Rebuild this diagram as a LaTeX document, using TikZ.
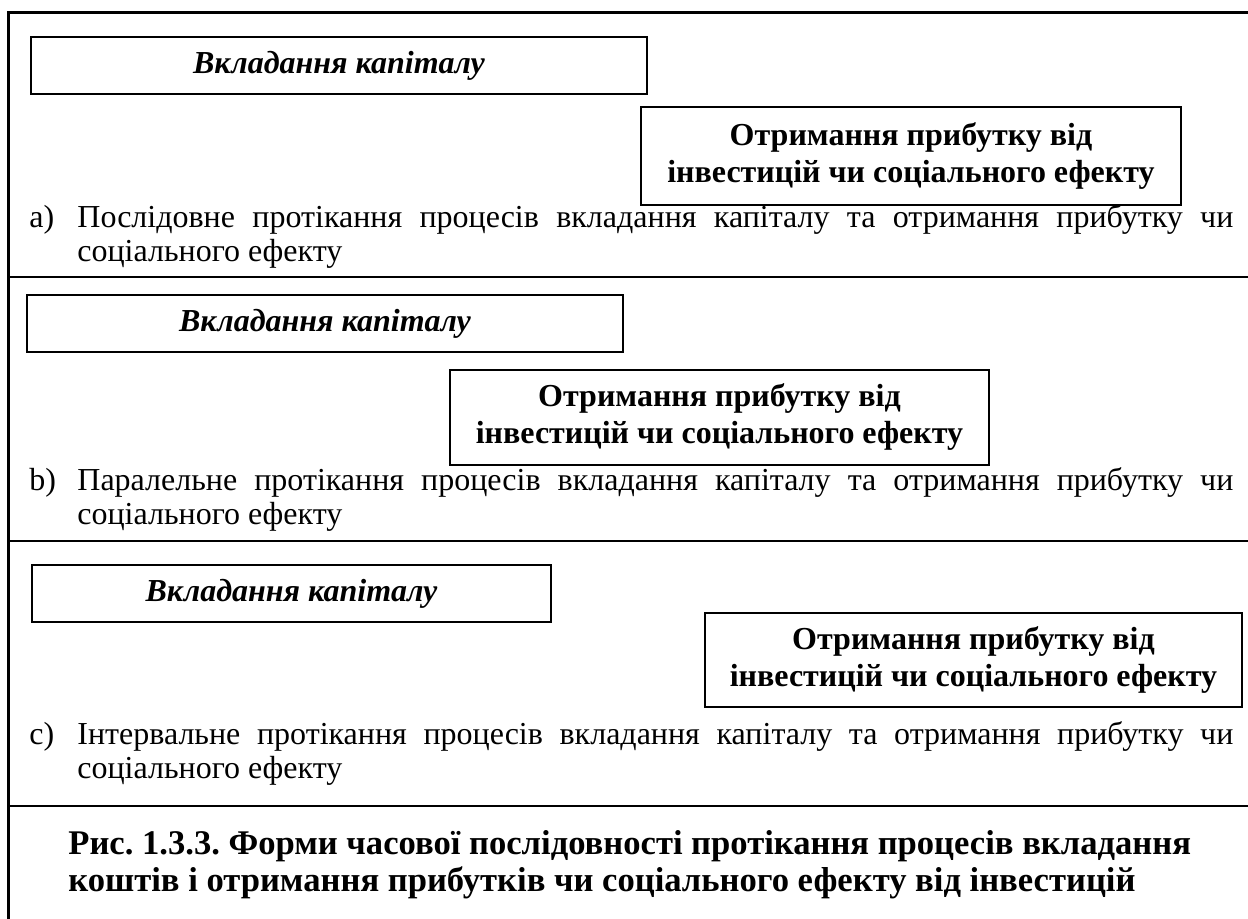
\documentclass[tikz,border=0pt]{standalone}
\usepackage{fontspec}
\setmainfont{Liberation Serif}
\frenchspacing
\begin{document}
\begin{tikzpicture}[
        x=0.5pt, y=-0.5pt,
        box/.style={rectangle, draw, line width=1.3pt, inner sep=0pt, align=center, font=\fontsize{16}{18.5}\selectfont\bfseries},
        capbox/.style={box, font=\fontsize{16}{18.5}\selectfont\bfseries\itshape},
        itemlabel/.style={anchor=base west, inner sep=0pt, font=\fontsize{16}{17}\selectfont},
        desc/.style={anchor=base west, inner sep=0pt, text width=578pt, align=justify, font=\fontsize{16}{17}\selectfont},
        divider/.style={line width=1.2pt}
    ]
        \useasboundingbox (0,0) rectangle (1248,919);

        % frame and dividers
        \draw[line width=1.5pt] (8,925) -- (8,13) -- (1255,13);
        \draw[divider] (8,277) -- (1255,277);
        \draw[divider] (8,541) -- (1255,541);
        \draw[divider] (8,806) -- (1255,806);

        % a)
        \node[capbox, minimum width=308pt, minimum height=28.5pt] (capA) at (339,65.5) {Вкладання капіталу};
        \node[box, minimum width=270pt, minimum height=49pt] (profA) at (911,156) {Отримання прибутку від\\інвестицій чи соціального ефекту};
        \node[itemlabel] (labA) at (29,228) {а)};
        \node[desc] (descA) at (77,228) {Послідовне протікання процесів вкладання капіталу та отримання прибутку чи\linebreak соціального ефекту};

        % b)
        \node[capbox, minimum width=298pt, minimum height=28.5pt] (capB) at (325,323.5) {Вкладання капіталу};
        \node[box, minimum width=269.5pt, minimum height=47.5pt] (profB) at (719.5,417.5) {Отримання прибутку від\\інвестицій чи соціального ефекту};
        \node[itemlabel] (labB) at (29,491) {b)};
        \node[desc] (descB) at (77,491) {Паралельне протікання процесів вкладання капіталу та отримання прибутку чи\linebreak соціального ефекту};

        % c)
        \node[capbox, minimum width=259.5pt, minimum height=28.5pt] (capC) at (291.5,593.5) {Вкладання капіталу};
        \node[box, minimum width=268.5pt, minimum height=47pt] (profC) at (973.5,660) {Отримання прибутку від\\інвестицій чи соціального ефекту};
        \node[itemlabel] (labC) at (29,744) {с)};
        \node[desc] (descC) at (77,744) {Інтервальне протікання процесів вкладання капіталу та отримання прибутку чи\linebreak соціального ефекту};

        % caption
        \node[anchor=base west, inner sep=0pt, align=left, font=\fontsize{17.3}{18.5}\selectfont\bfseries] (caption) at (68,891) {Рис. 1.3.3. Форми часової послідовності протікання процесів вкладання\\коштів і отримання прибутків чи соціального ефекту від інвестицій};
    \end{tikzpicture}
\end{document}
